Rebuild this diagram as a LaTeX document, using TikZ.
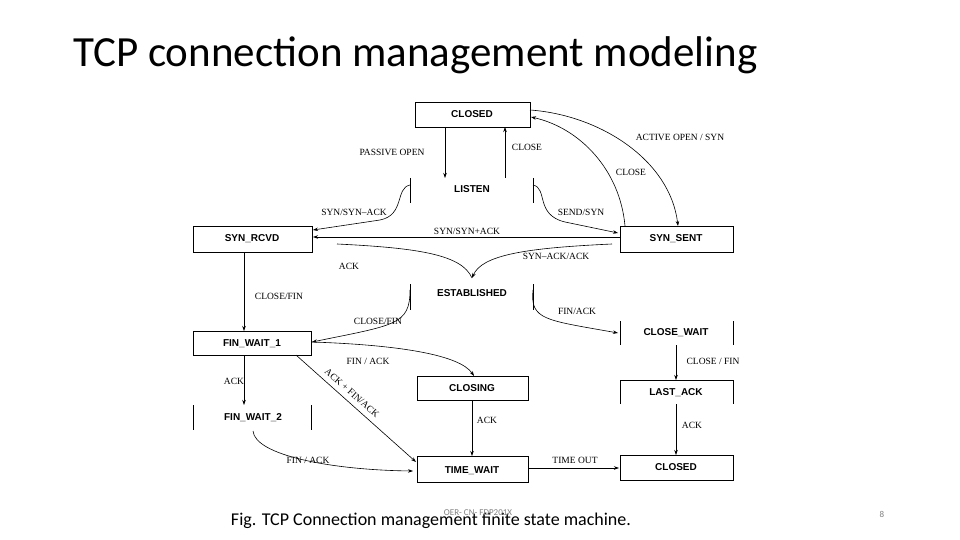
\documentclass[tikz,border=0pt]{standalone}
\usepackage{fontspec}
\setmainfont{Liberation Serif}
\newfontfamily\cali{Carlito}
\newfontfamily\arial{Liberation Sans}
\usetikzlibrary{arrows.meta}
\begin{document}
\begin{tikzpicture}[x=1pt,y=-1pt,
  st/.style={font=\arial\bfseries\fontsize{10}{11}\selectfont, inner sep=0pt},
  lb/.style={font=\fontsize{9.5}{10}\selectfont, inner sep=0pt},
  ar/.style={-{Stealth[length=5pt,width=3.5pt]}, line width=0.6pt},
  bx/.style={draw, line width=0.6pt},
  bar/.style={line width=0.6pt}]
\useasboundingbox (0,0) rectangle (960,540);
\node[anchor=west, font=\cali\fontsize{43}{46}\selectfont, inner sep=0pt] (title) at (73,55) {TCP connection management modeling};
\node[font=\cali\fontsize{18}{20}\selectfont, inner sep=0pt] (cap) at (431,521) {Fig. TCP Connection management finite state machine.};
\node[font=\cali\fontsize{9}{10}\selectfont, text=gray, inner sep=0pt] (oer) at (478,513) {OER- CN- FDP201X};
\node[font=\cali\fontsize{9}{10}\selectfont, text=gray, inner sep=0pt] (pg) at (882,514) {8};

% states
\draw[bx] (415,102) rectangle (530,127); \node[st] (closed) at (472,114) {CLOSED};
\draw[bar] (410,178)--(410,203) (533,178)--(533,203); \node[st] (listen) at (472,189) {LISTEN};
\draw[bx] (193,226) rectangle (312,252); \node[st] (rcvd) at (252,239) {SYN\_RCVD};
\draw[bx] (620,226) rectangle (733,252); \node[st] (sent) at (676,239) {SYN\_SENT};
\draw[bar] (410,284)--(410,310) (533,284)--(533,310); \node[st] (est) at (472,293) {ESTABLISHED};
\draw[bx] (193,331) rectangle (311,355); \node[st] (fw1) at (252,344) {FIN\_WAIT\_1};
\draw[bar] (620,321)--(620,345) (733,321)--(733,345); \node[st] (cw) at (676,333) {CLOSE\_WAIT};
\draw[bx] (417,376) rectangle (528,400); \node[st] (closing) at (472,388) {CLOSING};
\draw[bar] (620,404)--(620,380)--(733,380)--(733,404); \node[st] (last) at (676,393) {LAST\_ACK};
\draw[bar] (193,405)--(193,430) (311,405)--(311,430); \node[st] (fw2) at (253,418) {FIN\_WAIT\_2};
\draw[bx] (417,456) rectangle (528,482); \node[st] (tw) at (472,471) {TIME\_WAIT};
\draw[bx] (620,455) rectangle (733,480); \node[st] (closed2) at (676,467) {CLOSED};

\coordinate (c1) at (445,127); \coordinate (l1) at (445,178);
\coordinate (l2) at (505,178); \coordinate (c2) at (505,127);
\coordinate (c3) at (530,110); \coordinate (s3) at (678,226);
\coordinate (s4) at (625,226); \coordinate (c4) at (531,117);
\coordinate (l5) at (410,185); \coordinate (r5) at (313,230);
\coordinate (l6) at (533,185); \coordinate (s6) at (618,233);
\coordinate (s7) at (620,237); \coordinate (r7) at (313,237);
\coordinate (r8) at (337,244); \coordinate (s8) at (612,244); \coordinate (e8) at (472,278);
\coordinate (r9) at (244,252); \coordinate (f9) at (244,331);
\coordinate (e10) at (410,290); \coordinate (f10) at (312,342);
\coordinate (e11) at (533,290); \coordinate (w11) at (618,333);
\coordinate (cg) at (474,376);
\coordinate (f13) at (244,355); \coordinate (g13) at (244,405);
\coordinate (f14) at (296,355); \coordinate (t14) at (416,462);
\coordinate (g15) at (253,431); \coordinate (t15) at (413,471);
\coordinate (cg2) at (472,400); \coordinate (t16) at (472,456);
\coordinate (t17) at (528,468); \coordinate (d17) at (619,468);
\coordinate (w18) at (676,345); \coordinate (a18) at (676,380);
\coordinate (a19) at (676,404); \coordinate (d19) at (676,455);

\draw[ar] (c1)--(l1); \node[lb] (n1) at (392,152) {PASSIVE OPEN};
\draw[ar] (l2)--(c2); \node[lb] (n2) at (527,147) {CLOSE};
\draw[ar] (c3) .. controls (600,115) and (670,160) .. (s3); \node[lb] (n3) at (680,137) {ACTIVE OPEN / SYN};
\draw[ar] (s4) .. controls (620,170) and (580,128) .. (c4); \node[lb] (n4) at (631,172) {CLOSE};
\draw[ar] (l5) .. controls (395,188) and (405,215) .. (380,220) -- (r5); \node[lb] (n5) at (354,212) {SYN/SYN--ACK};
\draw[ar] (l6) .. controls (548,188) and (535,215) .. (565,222) -- (s6); \node[lb] (n6) at (581,212) {SEND/SYN};
\draw[ar] (s7)--(r7); \node[lb] (n7) at (467,231) {SYN/SYN+ACK};
\draw[line width=0.6pt] (r8) .. controls (420,248) and (462,255) .. (e8);
\draw[ar] (s8) .. controls (525,248) and (482,255) .. (e8);
\node[lb] (n8a) at (349,266) {ACK}; \node[lb] (n8b) at (556,256) {SYN--ACK/ACK};
\draw[ar] (r9)--(f9); \node[lb] (n9) at (279,296) {CLOSE/FIN};
\draw[ar] (e10) .. controls (410,325) and (395,325) .. (f10); \node[lb] (n10) at (378,321) {CLOSE/FIN};
\draw[ar] (e11) .. controls (530,320) and (545,320) .. (w11); \node[lb] (n11) at (577,311) {FIN/ACK};
\draw[ar] (f10) .. controls (400,345) and (460,355) .. (cg); \node[lb] (n12) at (368,361) {FIN / ACK};
\draw[ar] (f13)--(g13); \node[lb] (n13) at (234,381) {ACK};
\draw[ar] (f14)--(t14); \node[lb, rotate=-41] (n14) at (352,393) {ACK + FIN/ACK};
\draw[ar] (g15) .. controls (255,455) and (330,470) .. (t15); \node[lb] (n15) at (308,460) {FIN / ACK};
\draw[ar] (cg2)--(t16); \node[lb] (n16) at (487,420) {ACK};
\draw[ar] (t17)--(d17); \node[lb] (n17) at (575,460) {TIME OUT};
\draw[ar] (w18)--(a18); \node[lb] (n18) at (713,361) {CLOSE / FIN};
\draw[ar] (a19)--(d19); \node[lb] (n19) at (692,425) {ACK};
\end{tikzpicture}
\end{document}
